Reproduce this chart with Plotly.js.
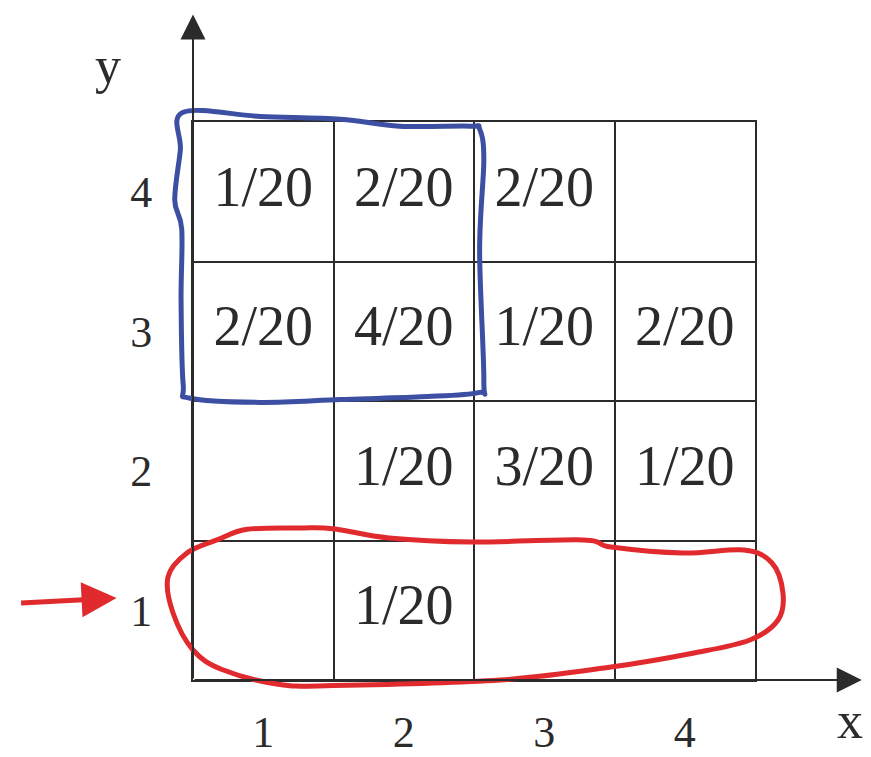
<!DOCTYPE html>
<html>
<head>
<meta charset="utf-8">
<script src="https://cdn.plot.ly/plotly-3.0.1.min.js"></script>
<style>
html, body { margin: 0; padding: 0; background: #fff; }
#chart { width: 871px; height: 757px; }
</style>
</head>
<body>
<div id="chart"></div>
<script>
// joint table: counts out of 20 for each (x, y) cell, empty cells left out
var xCells = [1, 2, 3, 1, 2, 3, 4, 2, 3, 4, 2];
var yCells = [4, 4, 4, 3, 3, 3, 3, 2, 2, 2, 1];
var counts = [1, 2, 2, 2, 4, 1, 2, 1, 3, 1, 1];
var total = 20;
var tickVals = [1, 2, 3, 4];
var tickText = ["1", "2", "3", "4"];
var cellEdges = [1.5, 2.5, 3.5];

var labels = counts.map(function (c) { return c + "/" + total; });

// hand drawn outlines, in cell units
var blueLoop = [[0.43, 4.57], [0.98, 4.54], [1.55, 4.52], [1.97, 4.47], [2.47, 4.47], [2.54, 4.45],
    [2.57, 4.23], [2.54, 3.58], [2.57, 2.65], [2.53, 2.56], [2.12, 2.53], [1.55, 2.51],
    [0.98, 2.49], [0.48, 2.52], [0.43, 2.62], [0.415, 3.22], [0.42, 3.73], [0.37, 3.94], [0.41, 4.3]];
var redLoop = [[0.322, 1.238], [0.457, 1.41], [0.671, 1.504], [0.884, 1.58], [1.262, 1.59],
    [1.496, 1.585], [1.895, 1.518], [2.486, 1.489], [3.276, 1.504], [3.475, 1.453], [3.988, 1.41],
    [4.422, 1.432], [4.621, 1.339], [4.699, 1.124], [4.664, 0.93], [4.464, 0.787], [4.066, 0.694],
    [3.475, 0.593], [2.685, 0.5], [1.496, 0.46], [1.105, 0.47], [0.706, 0.575], [0.5, 0.715],
    [0.358, 0.98]];

var lo = 0.5, hi = 4.5;
function toPaper(p) {
    return [(p[0] - lo) / (hi - lo), (p[1] - lo) / (hi - lo)];
}
function smoothPath(pts) {
    var p = pts.map(toPaper);
    var n = p.length;
    var s = "M" + p[0][0] + "," + p[0][1];
    for (var i = 0; i < n; i++) {
        var p0 = p[(i - 1 + n) % n], p1 = p[i], p2 = p[(i + 1) % n], p3 = p[(i + 2) % n];
        var c1 = [p1[0] + (p2[0] - p0[0]) / 6, p1[1] + (p2[1] - p0[1]) / 6];
        var c2 = [p2[0] - (p3[0] - p1[0]) / 6, p2[1] - (p3[1] - p1[1]) / 6];
        s += " C" + c1[0] + "," + c1[1] + " " + c2[0] + "," + c2[1] + " " + p2[0] + "," + p2[1];
    }
    return s + " Z";
}

var ink = "#2b2b2b";
var serif = "Liberation Serif, Times New Roman, serif";

var trace = {
    x: xCells,
    y: yCells,
    text: labels,
    mode: "text",
    type: "scatter",
    textposition: "middle center",
    textfont: { family: serif, size: 56, color: ink },
    hoverinfo: "skip",
    cliponaxis: false
};

function axis(standoff) {
    return {
        range: [lo, hi],
        tickmode: "array",
        tickvals: tickVals,
        ticktext: tickText,
        ticks: "",
        showgrid: false,
        zeroline: false,
        showline: true,
        mirror: true,
        linecolor: ink,
        linewidth: 2,
        tickfont: { family: serif, size: 44, color: ink },
        ticklabelstandoff: standoff,
        fixedrange: true,
        minor: { tickmode: "array", tickvals: cellEdges, showgrid: true, gridcolor: ink, gridwidth: 2, ticks: "" }
    };
}

var layout = {
    width: 871,
    height: 757,
    margin: { l: 193, r: 116, t: 122, b: 77 },
    paper_bgcolor: "#fff",
    plot_bgcolor: "#fff",
    showlegend: false,
    font: { family: serif, color: ink },
    xaxis: axis(12),
    yaxis: axis(30),
    shapes: [
        { type: "path", xref: "paper", yref: "paper", path: smoothPath(blueLoop),
          line: { color: "#3d4fa3", width: 5 } },
        { type: "path", xref: "paper", yref: "paper", path: smoothPath(redLoop),
          line: { color: "#e02a2e", width: 5 } }
    ],
    annotations: [
        // axis arrows
        { x: 5.26, y: lo, ax: lo, ay: lo, xref: "x", yref: "y", axref: "x", ayref: "y",
          text: "", showarrow: true, arrowhead: 2, arrowsize: 2.5, arrowwidth: 2, arrowcolor: ink, standoff: 0 },
        { x: lo, y: 5.27, ax: lo, ay: lo, xref: "x", yref: "y", axref: "x", ayref: "y",
          text: "", showarrow: true, arrowhead: 2, arrowsize: 2.5, arrowwidth: 2, arrowcolor: ink, standoff: 0 },
        { x: 1.169, y: -0.072, xref: "paper", yref: "paper", xanchor: "center", yanchor: "middle",
          text: "x", showarrow: false, font: { family: serif, size: 52, color: ink } },
        { x: -0.151, y: 1.102, xref: "paper", yref: "paper", xanchor: "center", yanchor: "middle",
          text: "y", showarrow: false, font: { family: serif, size: 52, color: ink } },
        // red pointer at y = 1
        { x: -0.136, y: 0.147, xref: "paper", yref: "paper", ax: -97, ay: 5,
          text: "", showarrow: true, arrowhead: 2, arrowsize: 1.4, arrowwidth: 5, arrowcolor: "#e02a2e", standoff: 0 }
    ]
};

Plotly.newPlot("chart", [trace], layout, { displayModeBar: false, staticPlot: true });
</script>
</body>
</html>
